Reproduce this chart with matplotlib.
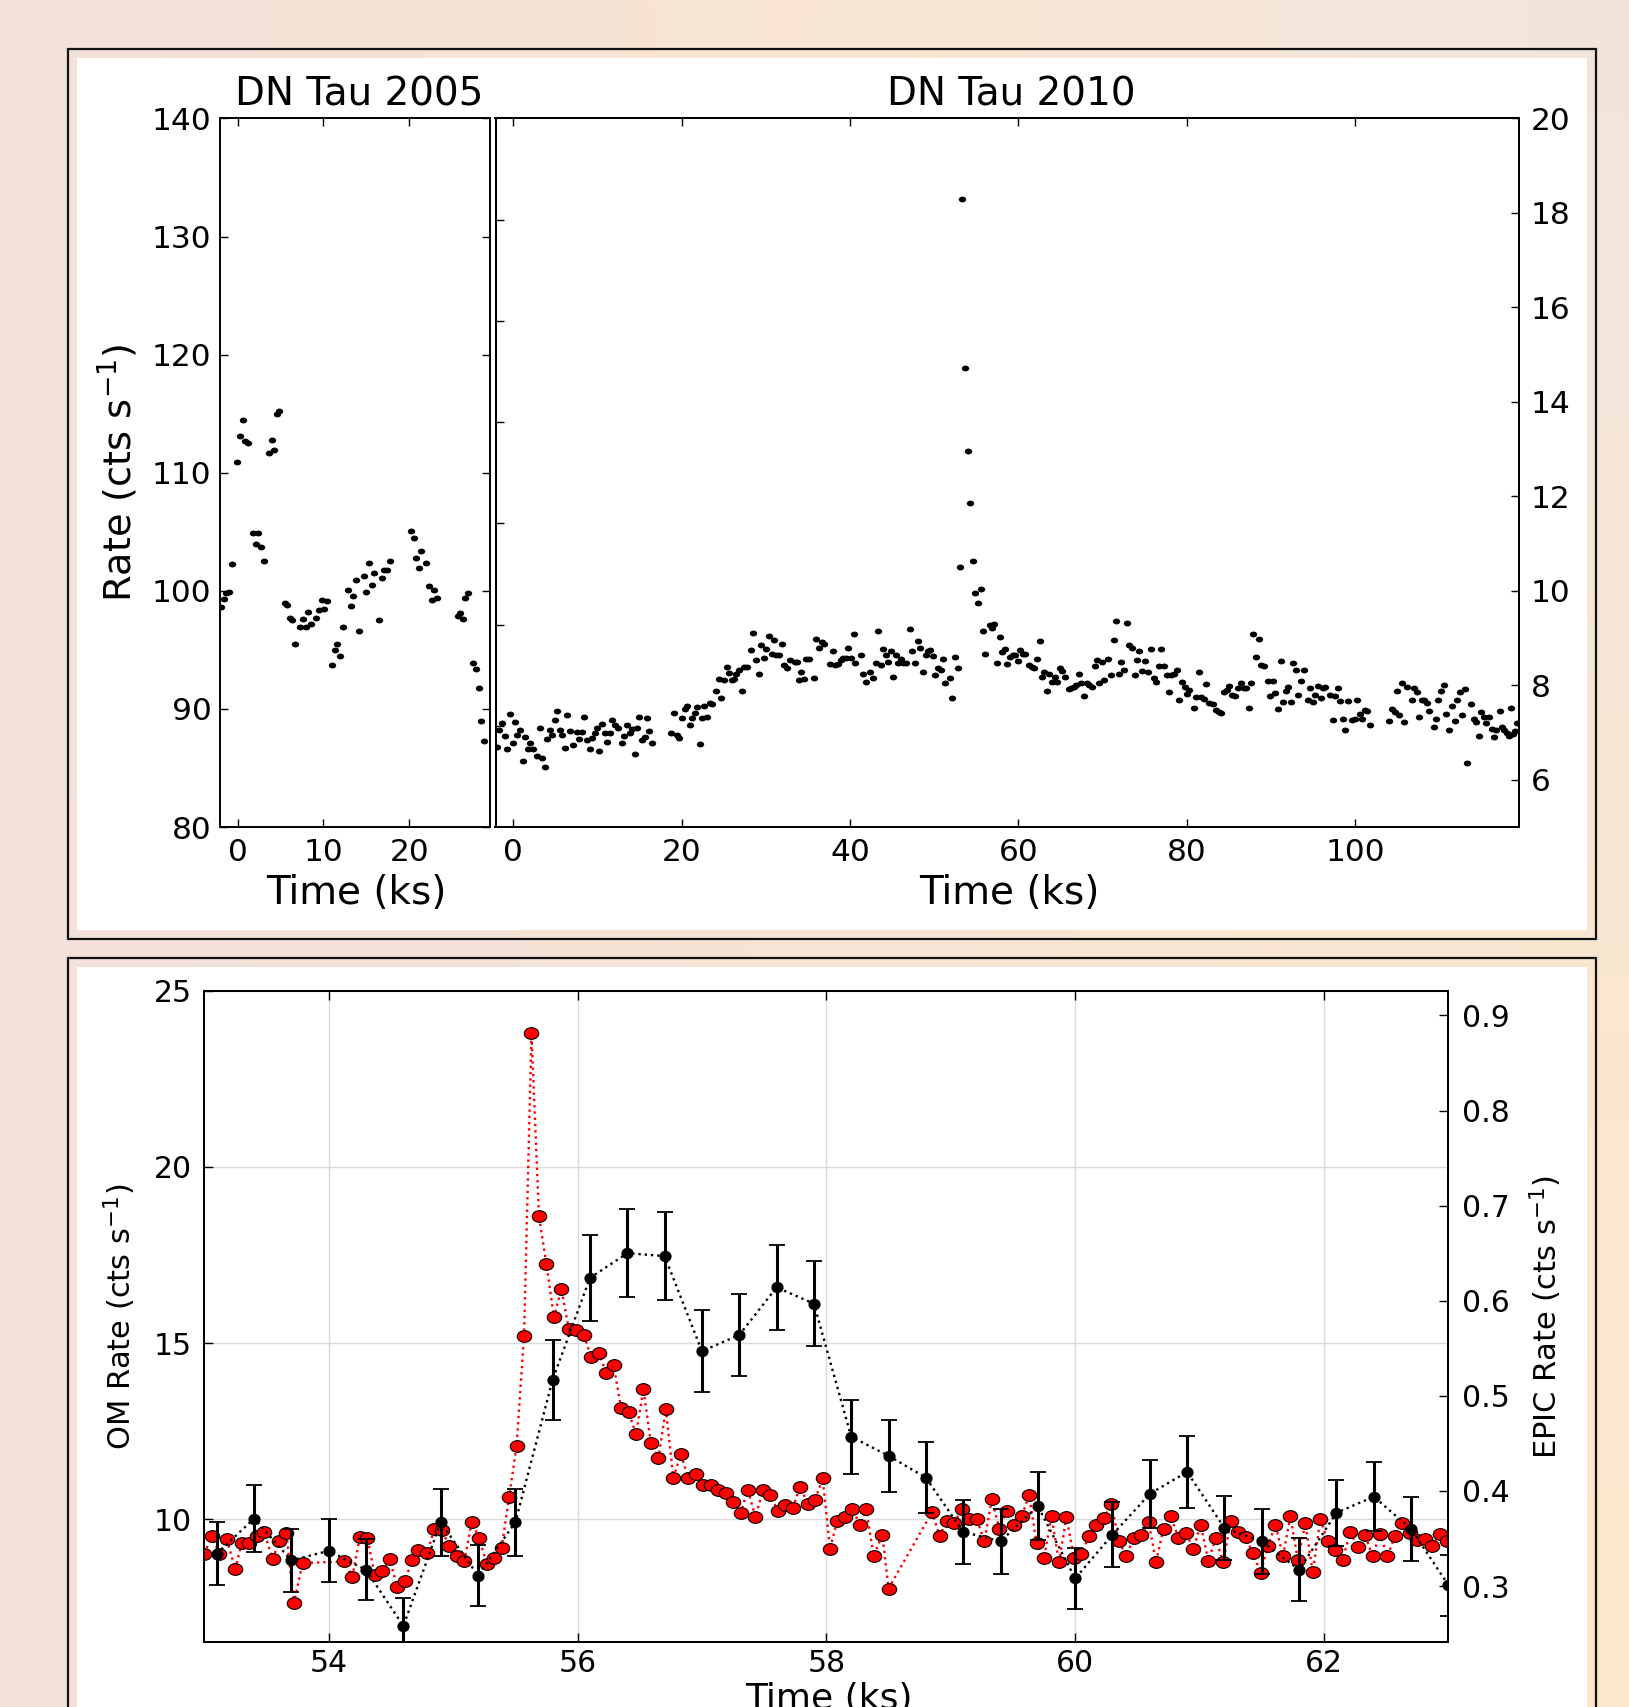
import numpy as np
import matplotlib
matplotlib.use('Agg')
import matplotlib.pyplot as plt
from matplotlib.path import Path
from matplotlib.patches import Rectangle

# ---- Daten ----
# DN Tau 2005 (Zeit in ks, Rate in cts/s)
t05 = [-1.91, -1.60, -1.30, -0.97, -0.70, -0.04, 0.28, 0.59, 0.86, 1.17,
       1.80, 2.11, 2.42, 2.74, 3.05, 3.63, 3.95, 4.26, 4.57, 4.88,
       5.47, 5.78, 6.05, 6.36, 6.68, 7.30, 7.62, 7.93, 8.24, 8.55,
       9.18, 9.49, 9.80, 10.10, 10.40, 11.00, 11.30, 11.60, 11.90, 12.30,
       12.85, 13.20, 13.50, 13.80, 14.10, 14.70, 15.00, 15.30, 15.60, 15.90,
       16.50, 16.80, 17.10, 17.40, 17.80, 20.20, 20.50, 20.80, 21.10, 21.40,
       22.00, 22.30, 22.60, 22.90, 23.20, 25.65, 25.96, 26.27, 26.50, 26.86,
       27.40, 27.80, 28.10, 28.30, 28.65]
r05 = [98.6, 99.35, 99.8, 99.9, 102.3, 110.9, 113.1, 114.5, 112.7, 112.5,
       104.9, 104.0, 104.9, 103.7, 102.5, 111.7, 112.8, 111.9, 115.0, 115.2,
       99.0, 98.8, 97.7, 97.5, 95.5, 96.9, 97.6, 96.96, 98.2, 97.2,
       97.7, 98.4, 99.2, 98.5, 99.1, 93.7, 95.0, 95.5, 94.5, 96.9,
       100.1, 98.7, 99.6, 100.9, 96.6, 101.3, 99.9, 102.4, 100.5, 101.5,
       97.5, 101.1, 101.8, 101.8, 102.5, 105.1, 104.5, 102.8, 101.9, 103.4,
       102.4, 100.4, 99.2, 100.1, 99.4, 97.9, 98.1, 97.6, 99.4, 99.8,
       93.9, 93.4, 91.8, 89.0, 87.3]

# DN Tau 2010, in Abschnitten
t10_a = [-1.94, -1.66, -1.35, -1.03, -0.71, -0.40, -0.08, 0.20, 0.51, 0.83,
         1.15, 1.43, 1.74, 2.02, 2.34, 2.81, 3.13, 3.44, 3.72, 4.04,
         4.32, 4.63, 4.91, 5.23, 5.54, 5.82, 6.14, 6.41, 6.73, 7.05,
         7.56, 7.84, 8.16, 8.43, 8.75, 9.07, 9.34, 9.66, 9.98, 10.25,
         10.57, 10.89, 11.16, 11.48, 11.76, 12.11, 12.43, 12.87, 13.18, 13.50,
         13.82, 14.13, 14.41, 14.69, 15.00, 15.32, 15.60, 15.90, 16.15, 16.47]
r10_a = [6.69, 7.06, 7.20, 6.93, 6.66, 7.39, 6.78, 7.22, 6.95, 7.06,
         6.39, 6.90, 6.65, 6.78, 6.65, 6.50, 7.10, 6.47, 6.27, 6.86,
         7.06, 6.95, 7.26, 7.45, 7.05, 6.95, 6.68, 7.37, 7.03, 6.74,
         7.01, 6.86, 7.01, 7.34, 6.85, 6.65, 6.88, 6.99, 7.10, 6.62,
         7.19, 6.99, 6.81, 7.00, 7.27, 7.17, 7.09, 6.79, 6.92, 7.17,
         7.00, 7.07, 6.55, 7.10, 7.34, 6.85, 6.90, 7.31, 7.03, 6.79]
t10_b = [18.80, 19.12, 19.44, 19.70, 20.03, 20.35, 20.63, 20.94, 21.22, 21.54,
         21.81, 22.13, 22.45, 22.72, 23.04, 23.36, 23.67, 24.11, 24.43, 24.74,
         25.02, 25.34, 25.65, 25.93, 26.25, 26.52, 26.84, 27.16, 27.43, 27.75,
         28.23, 28.54, 28.86, 29.14, 29.45, 29.77, 30.05, 30.36, 30.68, 30.96,
         31.27, 31.59, 31.87, 32.19, 32.50, 32.82, 33.41, 33.73, 33.89, 34.20,
         34.52, 34.80, 35.11, 35.67, 35.98, 36.30, 36.62, 36.93, 37.65, 37.96,
         38.24, 38.56, 38.88, 39.19, 39.51, 39.79, 40.10, 40.42, 40.60]
r10_b = [7.00, 7.41, 6.95, 6.88, 7.31, 7.49, 7.57, 7.17, 7.31, 7.41,
         7.54, 6.76, 7.31, 7.56, 7.33, 7.63, 7.61, 7.89, 8.14, 7.74,
         8.11, 8.39, 8.26, 8.12, 8.13, 8.23, 8.32, 7.89, 8.39, 8.39,
         8.74, 9.10, 8.53, 8.23, 8.86, 8.58, 8.76, 9.05, 8.67, 8.95,
         8.65, 8.65, 8.88, 8.44, 8.37, 8.53, 8.49, 8.50, 8.12, 8.28,
         8.13, 8.56, 8.56, 8.16, 8.99, 8.79, 8.91, 8.88, 8.46, 8.72,
         8.44, 8.46, 8.53, 8.58, 8.58, 8.79, 8.58, 9.09, 8.47]
t10_c = [41.29, 41.60, 41.92, 42.40, 42.71, 43.03, 43.35, 43.66, 43.90, 44.22,
         44.53, 44.85, 45.13, 45.44, 45.72, 46.04, 46.35, 46.67, 47.15, 47.42,
         47.74, 48.06, 48.33, 48.65, 48.97, 49.24, 49.56, 49.88, 50.15, 50.47,
         50.79, 51.10, 51.34, 51.82, 52.17, 52.45, 52.77, 53.04, 53.36, 53.64,
         53.96, 54.27, 54.59, 54.90, 55.18, 55.50, 55.78, 56.05, 56.57, 56.84,
         57.16, 57.48, 57.80, 58.07, 58.39, 58.70, 59.02, 59.34, 59.62, 59.93,
         60.21, 60.53, 60.84, 61.28, 61.60, 61.91, 62.19, 62.51, 62.78, 63.10,
         63.42, 63.69, 64.01, 64.29, 64.60, 64.92, 65.20, 65.51, 65.99, 66.27,
         66.58, 66.90, 67.18, 67.49, 67.81, 68.13, 68.41, 68.72, 69.04, 69.32,
         69.63, 69.95, 70.22, 70.70, 71.02, 71.33, 71.61, 71.93, 72.24, 72.56,
         72.84, 73.15, 73.47, 73.79, 74.07, 74.38, 74.66, 74.98, 75.45, 75.77,
         76.05, 76.36, 76.68, 76.96, 77.27, 77.59, 77.86, 78.18, 78.50, 78.82,
         79.09, 79.41, 79.73, 80.04, 80.32, 80.80, 81.11, 81.39, 81.71, 82.02,
         82.30, 82.62]
r10_c = [8.64, 8.23, 8.08, 8.29, 8.15, 8.47, 9.15, 8.44, 8.76, 8.64,
         8.49, 8.72, 8.18, 8.64, 8.47, 8.56, 8.47, 8.47, 9.19, 8.72,
         8.47, 8.93, 8.80, 8.29, 8.64, 8.72, 8.74, 8.62, 8.21, 8.37,
         8.33, 8.56, 8.06, 8.15, 7.73, 8.60, 8.37, 10.51, 18.29, 14.72,
         12.96, 11.85, 10.64, 9.96, 9.75, 10.03, 9.14, 8.67, 9.28, 9.22,
         9.29, 8.48, 9.03, 8.70, 8.77, 8.45, 8.59, 8.64, 8.64, 8.51,
         8.74, 8.67, 8.67, 8.43, 8.39, 8.37, 8.56, 8.93, 8.18, 8.29,
         7.88, 8.25, 8.07, 8.18, 8.08, 8.37, 8.31, 8.18, 7.93, 7.94,
         7.97, 8.00, 8.25, 8.04, 7.77, 8.04, 8.00, 7.96, 8.41, 8.53,
         8.06, 8.49, 8.12, 8.56, 8.21, 8.95, 9.36, 8.23, 8.49, 8.33,
         9.32, 8.86, 8.80, 8.21, 8.53, 8.72, 8.31, 8.51, 8.29, 8.76,
         8.16, 8.08, 8.41, 8.78, 8.41, 8.21, 7.85, 8.21, 8.23, 8.33,
         7.69, 8.08, 7.96, 7.82, 7.90, 7.53, 7.75, 8.29, 7.75, 7.71,
         8.02, 7.63]
t10_d = [83.17, 83.49, 83.81, 84.12, 84.44, 84.76, 85.07, 85.39, 85.71, 86.10,
         86.42, 86.74, 87.05, 87.33, 87.65, 87.92, 88.24, 88.52, 88.83, 89.11,
         89.63, 89.94, 90.26, 90.53, 90.85, 91.13, 91.45, 91.76, 92.04, 92.36,
         92.67, 92.95, 93.23, 93.55, 93.86, 94.34, 94.65, 94.97, 95.25, 95.56,
         95.88, 96.16, 96.47, 97.03, 97.31, 97.62, 97.90, 98.22, 98.53, 98.81,
         99.13, 99.64, 99.96, 100.24, 100.55, 100.83, 101.15, 101.46, 101.74]
r10_d = [7.61, 7.47, 7.43, 7.41, 7.87, 7.91, 7.98, 7.80, 7.77, 7.94,
         8.05, 7.94, 7.94, 7.53, 8.05, 9.09, 8.61, 8.98, 8.43, 8.42,
         8.09, 7.77, 8.10, 7.84, 7.50, 8.52, 7.65, 7.89, 7.96, 7.64,
         8.47, 8.33, 7.80, 8.09, 8.33, 7.68, 7.94, 7.64, 7.80, 7.98,
         7.73, 7.94, 7.96, 7.80, 7.27, 7.77, 7.94, 7.67, 7.29, 7.06,
         7.66, 7.27, 7.29, 7.70, 7.40, 7.29, 7.47, 7.46, 7.17]
t10_e = [104.04, 104.35, 104.67, 104.95, 105.22, 105.54, 105.82, 106.13, 106.69, 106.96,
         107.28, 107.56, 107.88, 108.19, 108.47, 108.79, 109.30, 109.62, 109.89, 110.21,
         110.49, 110.81, 111.08, 111.48, 111.80, 112.11, 112.39, 112.71, 113.02, 113.30,
         113.73, 114.05, 114.37, 114.65, 114.96, 115.24, 115.56, 115.87, 116.19, 116.51,
         116.78, 117.14, 117.42, 117.70, 118.01, 118.21, 118.49, 118.72, 119.00, 119.20]
r10_e = [7.24, 7.51, 7.43, 7.89, 7.38, 8.05, 7.22, 7.96, 7.70, 7.94,
         7.85, 7.33, 7.70, 7.68, 7.63, 7.45, 7.12, 7.29, 7.70, 7.89,
         8.01, 7.40, 7.06, 7.57, 7.24, 7.68, 7.87, 7.37, 7.93, 6.35,
         7.61, 7.29, 7.22, 6.92, 7.43, 7.34, 7.20, 7.34, 7.07, 6.90,
         7.06, 7.45, 7.12, 7.06, 6.99, 6.92, 7.52, 6.96, 7.03, 7.20]

# OM-Lichtkurve (unten, linke Achse)
om_t_a = [53.00, 53.06, 53.12, 53.18, 53.25, 53.30, 53.36, 53.42, 53.48, 53.55,
          53.60, 53.66, 53.72, 53.79, 54.12, 54.19, 54.25, 54.31, 54.37, 54.43,
          54.49, 54.55, 54.61, 54.67, 54.72, 54.79, 54.85, 54.91, 54.97, 55.03,
          55.09, 55.15, 55.21, 55.27, 55.33, 55.39, 55.45, 55.51, 55.57, 55.63,
          55.69, 55.75, 55.81, 55.87, 55.93, 55.99, 56.05, 56.11, 56.17, 56.23,
          56.29, 56.35, 56.41, 56.47, 56.53, 56.59, 56.65, 56.71, 56.77, 56.83,
          56.89, 56.95, 57.01, 57.07, 57.13, 57.19, 57.25, 57.31, 57.37, 57.43,
          57.49, 57.55, 57.61, 57.67, 57.73, 57.79, 57.85, 57.91, 57.97, 58.03]
om_r_a = [9.01, 9.53, 9.01, 9.43, 8.57, 9.33, 9.33, 9.51, 9.63, 8.87,
          9.37, 9.61, 7.61, 8.75, 8.80, 8.37, 9.49, 9.47, 8.42, 8.52,
          8.87, 8.08, 8.23, 8.83, 9.13, 9.03, 9.73, 9.68, 9.23, 8.96,
          8.80, 9.93, 9.45, 8.74, 8.90, 9.19, 10.62, 12.08, 15.20, 23.79,
          18.60, 17.25, 15.73, 16.53, 15.40, 15.38, 15.24, 14.59, 14.72, 14.15,
          14.38, 13.15, 13.05, 12.41, 13.69, 12.15, 11.73, 13.12, 11.18, 11.84,
          11.18, 11.28, 10.96, 10.97, 10.84, 10.74, 10.50, 10.18, 10.82, 10.05,
          10.82, 10.69, 10.23, 10.41, 10.33, 10.92, 10.44, 10.54, 11.16, 9.16]
om_t_b = [58.085, 58.15, 58.21, 58.27, 58.32, 58.38, 58.45, 58.50, 58.85, 58.91,
          58.97, 59.03, 59.09, 59.15, 59.21, 59.27, 59.33, 59.39, 59.45, 59.51,
          59.57, 59.63, 59.69, 59.75, 59.81, 59.87, 59.93, 59.99, 60.05, 60.11,
          60.17, 60.23, 60.29, 60.35, 60.41, 60.47, 60.53, 60.59, 60.65, 60.71,
          60.77, 60.83, 60.89, 60.95, 61.01, 61.07, 61.13, 61.19, 61.25, 61.31,
          61.37, 61.43, 61.49, 61.55, 61.61, 61.67, 61.73, 61.79, 61.85, 61.91,
          61.97, 62.03, 62.09, 62.15, 62.21, 62.27, 62.33, 62.39, 62.45, 62.51,
          62.57, 62.63, 62.69, 62.75, 62.81, 62.87, 62.93, 62.99]
om_r_b = [9.94, 10.05, 10.29, 9.84, 10.29, 8.95, 9.55, 8.03, 10.20, 9.52,
          9.96, 9.90, 10.29, 9.99, 9.99, 9.37, 10.56, 9.73, 10.24, 9.82,
          10.08, 10.68, 9.31, 8.91, 10.08, 8.77, 10.06, 8.90, 9.00, 9.52,
          9.84, 10.02, 10.44, 9.39, 8.95, 9.46, 9.55, 9.93, 8.79, 9.73,
          10.08, 9.46, 9.61, 9.16, 9.84, 8.82, 9.45, 8.77, 9.94, 9.63,
          9.49, 9.03, 8.47, 9.25, 9.84, 8.95, 10.08, 8.83, 9.88, 8.49,
          9.99, 9.39, 9.13, 8.85, 9.63, 9.22, 9.55, 8.95, 9.58, 8.95,
          9.51, 9.90, 9.61, 9.40, 9.43, 9.25, 9.58, 9.37]

# EPIC-Lichtkurve (unten, rechte Achse) mit Fehlern
ep_t = [53.1, 53.4, 53.7, 54.0, 54.3, 54.6, 54.9, 55.2, 55.5, 55.8,
        56.1, 56.4, 56.7, 57.0, 57.3, 57.6, 57.9, 58.2, 58.5, 58.8,
        59.1, 59.4, 59.7, 60.0, 60.3, 60.6, 60.9, 61.2, 61.5, 61.8,
        62.1, 62.4, 62.7, 63.0]
ep_r = [0.334, 0.371, 0.327, 0.337, 0.317, 0.258, 0.367, 0.311, 0.367, 0.517,
        0.624, 0.650, 0.647, 0.547, 0.564, 0.614, 0.597, 0.457, 0.437, 0.414,
        0.357, 0.347, 0.384, 0.308, 0.354, 0.397, 0.420, 0.361, 0.347, 0.317,
        0.377, 0.394, 0.360, 0.301]
ep_e = [0.033, 0.035, 0.033, 0.033, 0.032, 0.029, 0.035, 0.032, 0.035, 0.042,
        0.045, 0.046, 0.046, 0.043, 0.043, 0.045, 0.045, 0.039, 0.038, 0.037,
        0.034, 0.034, 0.036, 0.032, 0.034, 0.036, 0.038, 0.034, 0.034, 0.033,
        0.035, 0.036, 0.034, 0.032]

t10 = t10_a + t10_b + t10_c + t10_d + t10_e
r10 = r10_a + r10_b + r10_c + r10_d + r10_e
om_t = om_t_a + om_t_b
om_r = om_r_a + om_r_b

# ---- Grafik ----
plt.rcParams['font.family'] = 'DejaVu Sans'

W, H = 1629, 1707
fig = plt.figure(figsize=(W / 100, H / 100), dpi=100)

# Hintergrund-Verlauf
bg = fig.add_axes([0, 0, 1, 1], zorder=-10)
grad = np.array([
    [[243, 226, 218], [252, 229, 205], [241, 230, 221]],
    [[244, 226, 219], [246, 228, 214], [250, 230, 210]],
    [[243, 225, 218], [245, 229, 216], [253, 232, 205]],
]) / 255.0
bg.imshow(grad, extent=[0, 1, 0, 1], aspect='auto', interpolation='bicubic')
bg.set_axis_off()


def frame(x0, y0, x1, y1, inset):
    # schwarzer Rahmen + weisse Flaeche (Pixelkoordinaten von oben)
    fig.add_artist(Rectangle((x0 / W, 1 - y1 / H), (x1 - x0) / W, (y1 - y0) / H,
                             transform=fig.transFigure, facecolor='none',
                             edgecolor='#111111', lw=1.6, zorder=-5))
    fig.add_artist(Rectangle(((x0 + inset) / W, 1 - (y1 - inset) / H),
                             (x1 - x0 - 2 * inset) / W, (y1 - y0 - 2 * inset) / H,
                             transform=fig.transFigure, facecolor='white',
                             edgecolor='none', zorder=-6))


frame(67.5, 49, 1596, 939, 9)
frame(67.5, 958, 1596, 1760, 9)

circ = Path.unit_circle()
dot = Path(circ.vertices * [1.0, 0.8], circ.codes)
red_ell = Path(circ.vertices * [1.0, 0.81], circ.codes)
blk_ell = Path(circ.vertices * [1.0, 0.93], circ.codes)

tick_top = dict(direction='in', length=6, width=1, labelsize=22.5, pad=7.5)

# Panel DN Tau 2005
ax05 = fig.add_axes([220 / W, 1 - 827.1 / H, 270 / W, 708.7 / H])
ax05.plot(t05, r05, ls='none', marker=dot, ms=5.3, color='k', mew=0)
ax05.set_xlim(-2.05, 29.4)
ax05.set_ylim(80, 140)
ax05.set_xticks([0, 10, 20])
ax05.set_yticks(range(80, 141, 10))
ax05.tick_params(top=True, right=True, **tick_top)
ax05.tick_params(axis='y', pad=6)
for s in ax05.spines.values():
    s.set_linewidth(1.4)

# Panel DN Tau 2010
ax10 = fig.add_axes([495.5 / W, 1 - 827.1 / H, 1023.9 / W, 708.7 / H])
ax10r = ax10.twinx()
ax10.set_ylim(0, 7)
ax10.set_yticks(range(1, 7))
ax10.set_xlim(-2.1, 119.5)
ax10.set_xticks(range(0, 101, 20))
ax10.tick_params(top=True, labelleft=False, **tick_top)
ax10r.plot(t10, r10, ls='none', marker=dot, ms=5.3, color='k', mew=0)
ax10r.set_ylim(5, 20)
ax10r.set_yticks(range(6, 21, 2))
ax10r.tick_params(**tick_top)
ax10r.tick_params(pad=8)
for a in (ax10, ax10r):
    for s in a.spines.values():
        s.set_linewidth(1.4)

fig.text(359 / W, 1 - 105.5 / H, 'DN Tau 2005', ha='center', va='baseline', fontsize=28)
fig.text(1011 / W, 1 - 105.5 / H, 'DN Tau 2010', ha='center', va='baseline', fontsize=28)
fig.text(356 / W, 1 - 904 / H, 'Time (ks)', ha='center', va='baseline', fontsize=28)
fig.text(1009 / W, 1 - 904 / H, 'Time (ks)', ha='center', va='baseline', fontsize=28)
fig.text(117.6 / W, 1 - 473 / H, 'Rate (cts s$^{-1}$)', rotation=90,
         ha='center', va='center', fontsize=27.5)

# Unteres Panel: OM und EPIC
tick_bot = dict(direction='in', length=6.5, width=1, labelsize=21.5, pad=9)
axb = fig.add_axes([204.3 / W, 1 - 1642.4 / H, 1244.1 / W, 651.6 / H])
axb.plot(om_t, om_r, color='red', ls=':', lw=1.7, marker=red_ell, ms=10.4,
         mfc='red', mec='k', mew=0.8)
axb.set_xlim(53, 63)
axb.set_ylim(6.5, 25)
axb.set_xticks(range(54, 63, 2))
axb.set_yticks([10, 15, 20, 25])
axb.grid(True, color='#dadada', lw=1.0)
axb.tick_params(top=True, **tick_bot)
axb.tick_params(axis='x', pad=5)

axb2 = axb.twinx()
axb2.errorbar(ep_t, ep_r, yerr=ep_e, color='k', ls=':', lw=1.7, marker=blk_ell,
              ms=7.8, elinewidth=2.2, capsize=6, capthick=1.3)
axb2.set_ylim(6.5 / 27, 25 / 27)
axb2.set_yticks([0.3, 0.4, 0.5, 0.6, 0.7, 0.8, 0.9])
axb2.tick_params(**tick_bot)
axb2.tick_params(pad=10)
for a in (axb, axb2):
    for s in a.spines.values():
        s.set_linewidth(1.4)

fig.text(120 / W, 1 - 1317 / H, 'OM Rate (cts s$^{-1}$)', rotation=90,
         ha='center', va='center', fontsize=22)
fig.text(1546 / W, 1 - 1317 / H, 'EPIC Rate (cts s$^{-1}$)', rotation=90,
         ha='center', va='center', fontsize=22)
fig.text(828.7 / W, -0.001, 'Time (ks)', ha='center', va='baseline', fontsize=26)

plt.savefig('out.png', dpi=100)
